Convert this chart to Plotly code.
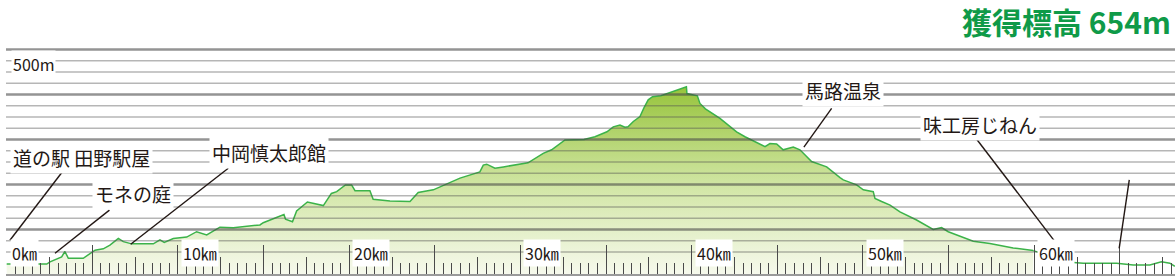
import plotly.graph_objects as go

# ---- data (distance in km, elevation in m) ----
DIST_KM = [0.00, 2.34, 2.53, 3.21, 3.40, 3.60, 4.47, 5.16, 5.64, 6.03, 6.52, 6.81, 7.30, 8.56, 8.95,
           9.20, 9.73, 10.51, 11.09, 11.68, 12.45, 13.23, 14.79, 14.98, 16.19, 16.28, 16.69, 16.93,
           17.56, 18.49, 18.96, 19.27, 19.78, 20.14, 20.34, 21.21, 21.40, 22.38, 23.55, 24.03, 24.91,
           26.47, 27.63, 27.83, 28.03, 28.51, 29.00, 30.44, 31.33, 31.82, 32.60, 33.71, 34.35, 35.05,
           35.42, 35.81, 36.10, 36.28, 36.59, 36.98, 37.21, 37.46, 37.71, 38.20, 39.69, 39.72, 40.33,
           40.48, 40.80, 41.65, 42.62, 43.11, 44.28, 44.57, 44.96, 45.34, 45.93, 46.32, 47.00, 47.88,
           48.66, 48.85, 49.63, 50.02, 50.60, 50.70, 51.09, 51.58, 52.16, 53.13, 54.10, 54.59, 54.98,
           56.44, 57.41, 58.77, 59.94]
ELEV_M = [48, 48, 53, 64, 76, 61, 61, 79, 82, 90, 105, 98, 93, 93, 102,
          96, 105, 108, 120, 113, 130, 129, 135, 140, 158, 148, 142, 166,
          186, 178, 205, 209, 224, 224, 211, 211, 192, 188, 187, 207, 213,
          239, 253, 268, 270, 261, 264, 273, 294, 302, 324, 325, 331, 342,
          353, 357, 352, 353, 365, 376, 395, 413, 420, 422, 442, 427, 422,
          405, 393, 372, 342, 331, 309, 316, 315, 302, 308, 302, 276, 264,
          240, 235, 224, 213, 209, 194, 187, 179, 164, 146, 125, 129, 120,
          99, 94, 84, 78]

EXT_KM = [59.94, 62.09, 62.86, 64.81, 65.78, 66.75, 67.43, 67.92, 68.21]
EXT_M = [78, 52, 50, 50, 46, 46, 53, 50, 43]

KM_LABELS = [0, 10, 20, 30, 40, 50, 60]
GRID_LIGHT = [75 + 25 * i for i in range(18)]   # 75 .. 500
GRID_DARK = [125, 225, 325, 425, 525]

TITLE = "獲得標高 654m"

# (text, text_km, text_m, line_from_km, line_from_m, line_to_km, line_to_m)
CALLOUTS = [
    ("道の駅 田野駅屋", 4.34, 285, 3.31, 256, 0.19, 101),
    ("モネの庭", 7.39, 206, 6.00, 168, 2.82, 72),
    ("中岡慎太郎館", 15.32, 296, 12.94, 261, 7.24, 92),
    ("馬路温泉", 48.85, 433, 48.17, 394, 46.55, 308),
    ("味工房じねん", 56.83, 359, 56.65, 325, 61.21, 98),
    ("", None, None, 65.55, 235, 64.96, 83),
]

X_RANGE = [-0.04, 68.22]
Y_RANGE = [26.0, 634.9]

JP_FONT = "Noto Sans CJK JP, Noto Sans, sans-serif"

fig = go.Figure()

fig.add_trace(go.Scatter(
    x=DIST_KM, y=ELEV_M, mode="lines", fill="tozeroy",
    line=dict(color="#3cb34a", width=1.5),
    fillgradient=dict(type="vertical",
                      colorscale=[[0, "#f6f9ec"],
                                  [0.45, "#d3e7a8"],
                                  [1, "#96c33a"]],
                      start=Y_RANGE[0], stop=445),
    hoverinfo="skip", showlegend=False))

fig.add_trace(go.Scatter(
    x=EXT_KM, y=EXT_M, mode="lines",
    line=dict(color="#3cb34a", width=1.5),
    hoverinfo="skip", showlegend=False))

# invisible trace to activate the overlay x axis (medium ticks)
fig.add_trace(go.Scatter(
    x=DIST_KM[:1], y=ELEV_M[:1], xaxis="x2", mode="lines",
    line=dict(width=0), opacity=0, hoverinfo="skip", showlegend=False))

# horizontal guide lines drawn translucently over the fill
for lv in GRID_LIGHT:
    if lv in GRID_DARK:
        continue
    fig.add_hline(y=lv, line=dict(color="rgba(80,80,80,0.42)", width=1.5), layer="above")
for lv in GRID_DARK:
    fig.add_hline(y=lv, line=dict(color="rgba(70,70,70,0.58)", width=2.4), layer="above")

for text, tx, ty, fx, fy, ex, ey in CALLOUTS:
    fig.add_shape(type="line", x0=fx, y0=fy, x1=ex, y1=ey, xref="x", yref="y",
                  line=dict(color="#231815", width=1.4), layer="above")
    if text:
        fig.add_annotation(x=tx, y=ty, xref="x", yref="y", text=text, showarrow=False,
                           font=dict(family=JP_FONT, size=19, color="#231815"),
                           bgcolor="white", borderpad=2)

for k in KM_LABELS:
    fig.add_annotation(x=k, y=72, xref="x", yref="y", text=f"{k}㎞", showarrow=False,
                       xanchor="left", xshift=3,
                       font=dict(family=JP_FONT, size=16, color="#231815"),
                       bgcolor="white", borderpad=1)

fig.add_annotation(x=0.25, y=500, xref="x", yref="y", text="500m", showarrow=False,
                   xanchor="left", yshift=-3,
                   font=dict(family=JP_FONT, size=16, color="#231815"),
                   bgcolor="white", borderpad=1)

fig.add_annotation(x=1, y=1 - 21 / 274, xref="paper", yref="paper", text=f"<b>{TITLE}</b>",
                   showarrow=False, xanchor="right", yanchor="middle", xshift=-2,
                   font=dict(family=JP_FONT, size=30, color="#0f9a48"))

fig.update_layout(
    width=1175, height=277,
    margin=dict(l=6, r=0, t=0, b=3),
    paper_bgcolor="white", plot_bgcolor="white",
    showlegend=False,
    xaxis=dict(range=X_RANGE, showgrid=False, zeroline=False, showticklabels=False,
               ticks="inside", tick0=0, dtick=5, ticklen=29, tickwidth=1.4, tickcolor="#4a4a4a",
               minor=dict(ticks="inside", dtick=0.5, tick0=0, ticklen=11, tickwidth=1.3,
                          tickcolor="#4a4a4a", showgrid=False),
               showline=True, linecolor="#9a9a9a", linewidth=2, mirror=False, fixedrange=True),
    xaxis2=dict(range=X_RANGE, overlaying="x", anchor="y", side="bottom", showgrid=False,
                zeroline=False, showticklabels=False, ticks="inside", tick0=0, dtick=2.5,
                ticklen=17, tickwidth=1.4, tickcolor="#4a4a4a", showline=False),
    yaxis=dict(range=Y_RANGE, showticklabels=False, showgrid=False, zeroline=False, ticks=""),
)

fig.write_html("out.html")
